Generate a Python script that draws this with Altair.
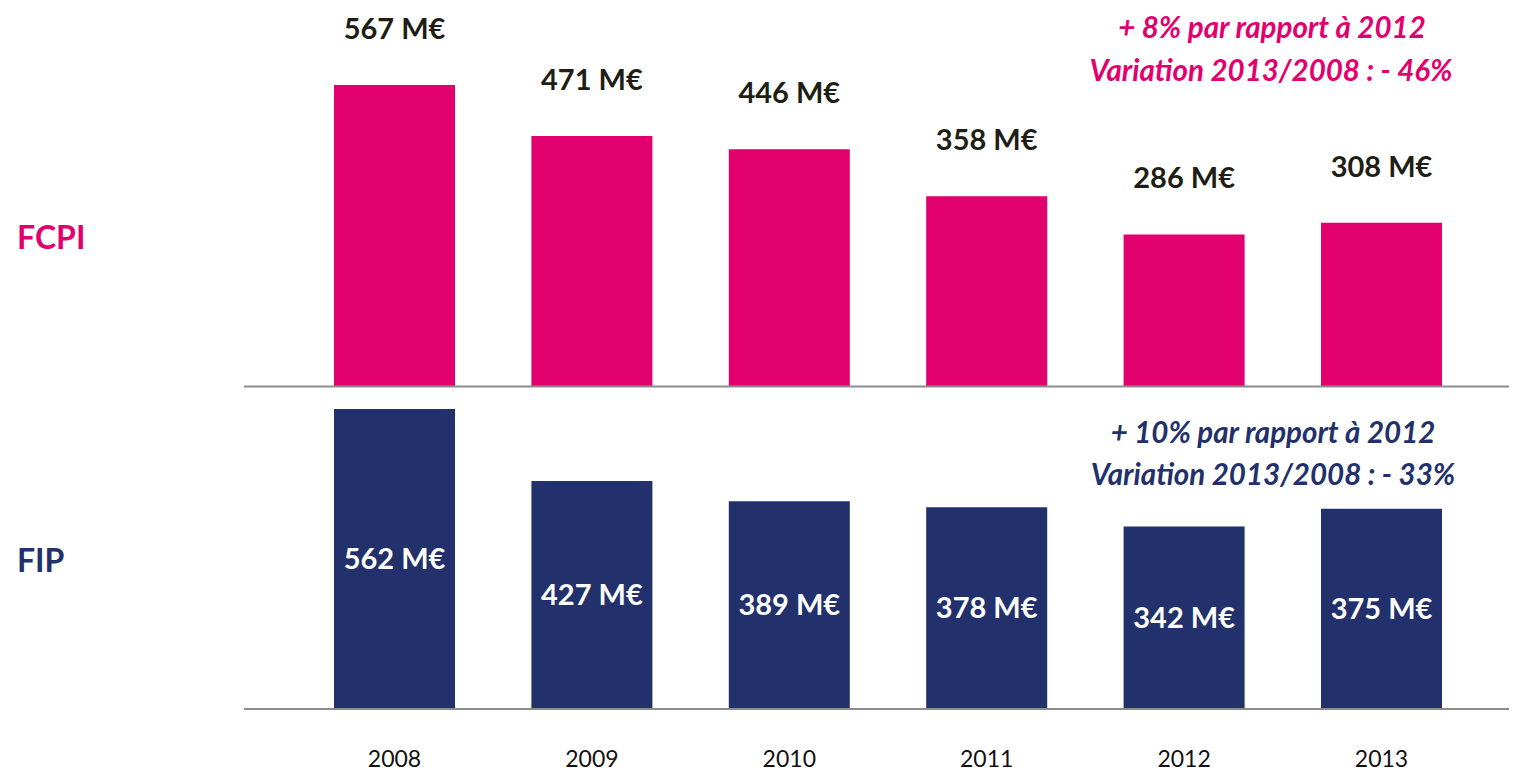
import altair as alt
import pandas as pd

years = ["2008", "2009", "2010", "2011", "2012", "2013"]
fcpi = [567, 471, 446, 358, 286, 308]
fip = [562, 427, 389, 378, 342, 375]
fcpi_note = ["+ 8% par rapport à 2012", "Variation 2013/2008 : - 46%"]
fip_note = ["+ 10% par rapport à 2012", "Variation 2013/2008 : - 33%"]
panels = ["FCPI", "FIP"]

PINK = "#E2006F"
NAVY = "#22306C"
DARK = "#1E1E14"
FONT = "Lato"

df = pd.DataFrame({"year": years, "fcpi": fcpi, "fip": fip})
df["fcpi_lbl"] = df["fcpi"].astype(str) + " M€"
df["fip_lbl"] = df["fip"].astype(str) + " M€"
df["fip_mid"] = df["fip"] / 2

xs = alt.Scale(domain=years, range=[326, 1434], paddingInner=0.387, paddingOuter=0)
ys_top = alt.Scale(domain=[0, 700], range=[378.5, 6.3], nice=False)
ys_bot = alt.Scale(domain=[0, 700], range=[701, 327.3], nice=False)

X = alt.X("year:N", scale=xs, axis=None)
base = alt.Chart(df)

top_bars = base.mark_bar(color=PINK).encode(
    X, y=alt.Y("fcpi:Q", scale=ys_top, axis=None))
bot_bars = base.mark_bar(color=NAVY).encode(
    X, y=alt.Y("fip:Q", scale=ys_bot, axis=None))

zero = alt.Chart(pd.DataFrame({"v": [0]}))
top_rule = zero.mark_rule(color="#8C8C8C", strokeWidth=2).encode(
    x=alt.value(236), x2=alt.value(1501), y=alt.Y("v:Q", scale=ys_top, axis=None))
bot_rule = zero.mark_rule(color="#8C8C8C", strokeWidth=2).encode(
    x=alt.value(236), x2=alt.value(1501), y=alt.Y("v:Q", scale=ys_bot, axis=None))

top_lbl = base.mark_text(font=FONT, fontWeight="bold", fontSize=29, color=DARK,
                         baseline="alphabetic", dy=-46).encode(
    X, y=alt.Y("fcpi:Q", scale=ys_top, axis=None), text="fcpi_lbl:N")
bot_lbl = base.mark_text(font=FONT, fontWeight="bold", fontSize=29, color="white",
                         baseline="alphabetic", dy=10).encode(
    X, y=alt.Y("fip_mid:Q", scale=ys_bot, axis=None), text="fip_lbl:N")

year_lbl = base.mark_text(font=FONT, fontSize=23, color="#111111",
                          baseline="alphabetic").encode(
    X, y=alt.value(759), text="year:N")


def txt(s, x, y, color, size, align="center", italic=False):
    return alt.Chart(pd.DataFrame({"t": [s]})).mark_text(
        font=FONT, fontWeight="bold", fontSize=size, color=color, align=align,
        baseline="alphabetic", fontStyle="italic" if italic else "normal").encode(
        x=alt.value(x), y=alt.value(y), text="t:N")


notes = [
    txt(fcpi_note[0], 1264, 30, PINK, 29.5, italic=True),
    txt(fcpi_note[1], 1263, 73, PINK, 29.5, italic=True),
    txt(fip_note[0], 1265, 435, NAVY, 29.5, italic=True),
    txt(fip_note[1], 1265, 477, NAVY, 29.5, italic=True),
    txt(panels[0], 9, 241, PINK, 32, align="left"),
    txt(panels[1], 9, 564, NAVY, 32, align="left"),
]

chart = alt.layer(
    top_bars, bot_bars, top_rule, bot_rule, top_lbl, bot_lbl, year_lbl, *notes
).resolve_scale(y="independent").properties(
    width=1501, height=764, autosize=alt.AutoSizeParams(type="none"), padding=0
).configure_view(stroke=None)

chart.save("out.html", embed_options={"renderer": "svg", "actions": False})
